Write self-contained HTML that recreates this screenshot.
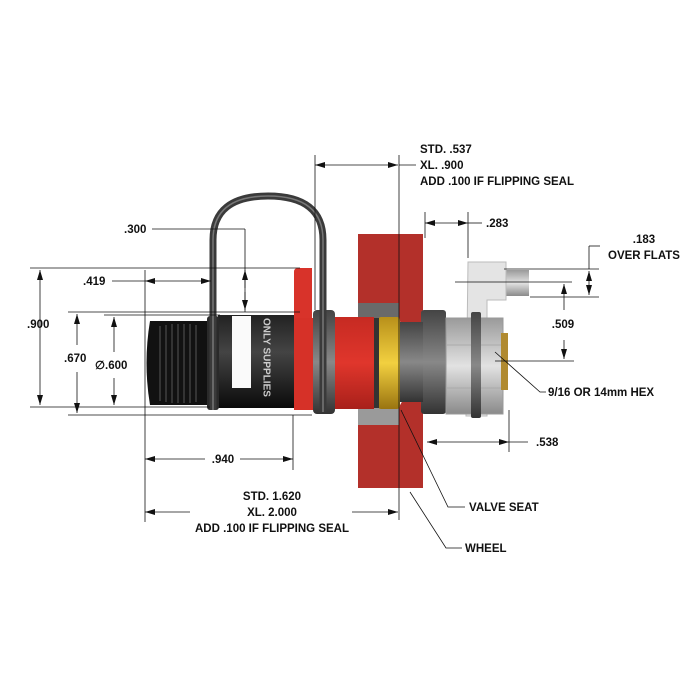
<!DOCTYPE html>
<html><head><style>
html,body{margin:0;padding:0;background:#fff;width:700px;height:700px;overflow:hidden}
text{font-family:"Liberation Sans",sans-serif;font-size:11.5px;font-weight:bold;fill:#111;dominant-baseline:middle}
</style></head><body>
<svg width="700" height="700" viewBox="0 0 700 700" xmlns="http://www.w3.org/2000/svg">
<defs>
<marker id="a" viewBox="0 0 10 6" refX="10" refY="3" markerWidth="10" markerHeight="6" orient="auto-start-reverse" markerUnits="userSpaceOnUse"><path d="M0,0 L10,3 L0,6z" fill="#111"/></marker>
<linearGradient id="blk" x1="0" y1="0" x2="0" y2="1"><stop offset="0" stop-color="#222"/><stop offset=".4" stop-color="#444"/><stop offset="1" stop-color="#0a0a0a"/></linearGradient>
<linearGradient id="red" x1="0" y1="0" x2="0" y2="1"><stop offset="0" stop-color="#c62a22"/><stop offset=".5" stop-color="#e0362c"/><stop offset="1" stop-color="#a8201a"/></linearGradient>
<linearGradient id="gry" x1="0" y1="0" x2="0" y2="1"><stop offset="0" stop-color="#9a9a9a"/><stop offset=".5" stop-color="#e2e2e2"/><stop offset="1" stop-color="#8a8a8a"/></linearGradient>
<linearGradient id="dg" x1="0" y1="0" x2="0" y2="1"><stop offset="0" stop-color="#444"/><stop offset=".5" stop-color="#888"/><stop offset="1" stop-color="#333"/></linearGradient>
<linearGradient id="yel" x1="0" y1="0" x2="0" y2="1"><stop offset="0" stop-color="#b8901a"/><stop offset=".5" stop-color="#f2d040"/><stop offset="1" stop-color="#9a7410"/></linearGradient>
</defs>

<!-- wheel -->
<path d="M358,234 H423 V327 H404 L399,320 V303 H358 Z" fill="#b3302a"/>
<path d="M358,425 H399 V407 L404,398 H423 V488 H358 Z" fill="#b3302a"/>
<rect x="358" y="303" width="41" height="16" fill="#6a6a6a"/>
<rect x="358" y="408" width="41" height="17" fill="#9a9a9a"/>

<!-- bracket & pin -->
<rect x="504" y="270" width="25" height="26" fill="url(#gry)"/>
<path d="M468,262 H506 V300 H487 V416 H466 Z" fill="#e4e4e4" stroke="#bbb"/>

<!-- hex nut etc -->
<rect x="421" y="310" width="25" height="104" rx="3" fill="url(#dg)"/>
<rect x="446" y="318" width="57" height="96" fill="url(#gry)" stroke="#999"/>
<line x1="446" y1="345" x2="503" y2="345" stroke="#aaa"/>
<line x1="446" y1="388" x2="503" y2="388" stroke="#aaa"/>
<rect x="471" y="312" width="10" height="106" rx="2" fill="url(#dg)"/>
<rect x="501" y="333" width="7" height="57" fill="#b08a30"/>
<rect x="399" y="322" width="24" height="80" fill="url(#dg)"/>
<rect x="378" y="317" width="22" height="92" rx="3" fill="url(#yel)"/>
<rect x="373" y="318" width="6" height="90" fill="#333"/>

<!-- red body -->
<rect x="330" y="317" width="44" height="92" fill="url(#red)"/>
<path d="M294,272 Q294,268 298,268 H312 V410 H294 Z" fill="#d8332a"/>
<rect x="294" y="318" width="30" height="92" fill="#d63128"/>
<rect x="313" y="310" width="22" height="104" rx="4" fill="url(#dg)"/>

<!-- black body -->
<rect x="218" y="315" width="76" height="93" fill="url(#blk)"/>
<rect x="232" y="316" width="19" height="72" fill="#fafafa"/>
<text transform="translate(266,318) rotate(90)" style="fill:#ccc;font-size:10px">ONLY SUPPLIES</text>
<rect x="207" y="316" width="12" height="94" rx="3" fill="#2a2a2a"/>

<!-- knurled cap -->
<path d="M150,321 H207 V405 H150 Q143,363 150,321 Z" fill="#111"/>
<g stroke="#555" stroke-width="1">
<line x1="160" y1="326" x2="160" y2="401"/><line x1="166" y1="325" x2="166" y2="402"/><line x1="172" y1="324" x2="172" y2="403"/><line x1="178" y1="324" x2="178" y2="403"/><line x1="184" y1="324" x2="184" y2="403"/><line x1="190" y1="324" x2="190" y2="403"/><line x1="196" y1="325" x2="196" y2="402"/>
</g>

<!-- handle -->
<path d="M213,410 V240 Q213,196 268,196 Q323,196 323,240 V412" fill="none" stroke="#3a3a3a" stroke-width="7"/>
<path d="M213,410 V240 Q213,196 268,196 Q323,196 323,240 V412" fill="none" stroke="#777" stroke-width="1.5"/>

<g stroke="#111" stroke-width="0.8" fill="none">
<!-- .900 -->
<line x1="30" y1="268" x2="300" y2="268"/>
<line x1="30" y1="407" x2="210" y2="407"/>
<line x1="40" y1="270" x2="40" y2="405" marker-start="url(#a)" marker-end="url(#a)"/>
<!-- .670 -->
<line x1="68" y1="312" x2="300" y2="312"/>
<line x1="68" y1="415" x2="312" y2="415"/>
<line x1="77" y1="314" x2="77" y2="345" marker-start="url(#a)"/>
<line x1="77" y1="372" x2="77" y2="413" marker-end="url(#a)"/>
<!-- .600 -->
<line x1="104" y1="315" x2="220" y2="315"/>
<line x1="114" y1="317" x2="114" y2="352" marker-start="url(#a)"/>
<line x1="114" y1="378" x2="114" y2="405" marker-end="url(#a)"/>
<!-- .419 -->
<line x1="112" y1="281" x2="145" y2="281"/>
<line x1="145" y1="281" x2="211" y2="281" marker-start="url(#a)" marker-end="url(#a)"/>
<line x1="145" y1="270" x2="145" y2="522"/>
<!-- .300 -->
<line x1="152" y1="229" x2="245" y2="229"/>
<line x1="245" y1="229" x2="245" y2="312"/>
<line x1="245" y1="288" x2="245" y2="270" marker-end="url(#a)"/>
<line x1="245" y1="292" x2="245" y2="310" marker-end="url(#a)"/>
<!-- .940 -->
<line x1="145" y1="459" x2="205" y2="459" marker-start="url(#a)"/>
<line x1="240" y1="459" x2="293" y2="459" marker-end="url(#a)"/>
<line x1="293" y1="415" x2="293" y2="470"/>
<!-- 1.620 -->
<line x1="145" y1="512" x2="190" y2="512" marker-start="url(#a)"/>
<line x1="352" y1="512" x2="398" y2="512" marker-end="url(#a)"/>
<line x1="399" y1="155" x2="399" y2="520"/>
<!-- .537 -->
<line x1="315" y1="155" x2="315" y2="310"/>
<line x1="315" y1="165" x2="398" y2="165" marker-start="url(#a)" marker-end="url(#a)"/>
<line x1="399" y1="165" x2="416" y2="165"/>
<!-- .283 -->
<line x1="425" y1="238" x2="425" y2="212"/>
<line x1="468" y1="258" x2="468" y2="212"/>
<line x1="425" y1="223" x2="468" y2="223" marker-start="url(#a)" marker-end="url(#a)"/>
<line x1="468" y1="223" x2="482" y2="223"/>
<!-- .183 -->
<line x1="504" y1="269" x2="599" y2="269"/>
<line x1="530" y1="297" x2="599" y2="297"/>
<line x1="589" y1="246" x2="589" y2="269"/>
<line x1="589" y1="246" x2="600" y2="246"/>
<line x1="589" y1="284" x2="589" y2="271" marker-end="url(#a)"/>
<line x1="589" y1="284" x2="589" y2="295" marker-end="url(#a)"/>
<!-- .509 -->
<line x1="455" y1="282" x2="572" y2="282"/>
<line x1="495" y1="361" x2="574" y2="361"/>
<line x1="564" y1="310" x2="564" y2="284" marker-end="url(#a)"/>
<line x1="564" y1="340" x2="564" y2="359" marker-end="url(#a)"/>
<!-- .538 -->
<line x1="509" y1="410" x2="509" y2="452"/>
<line x1="427" y1="442" x2="509" y2="442" marker-start="url(#a)" marker-end="url(#a)"/>
<line x1="509" y1="442" x2="528" y2="442"/>
<!-- leaders -->
<polyline points="495,352 540,392 546,392"/>
<polyline points="401,410 448,507 465,507"/>
<polyline points="410,492 446,548 462,548"/>
</g>

<text x="27" y="325">.900</text>
<text x="64" y="359">.670</text>
<text x="95" y="366">∅.600</text>
<text x="83" y="282">.419</text>
<text x="124" y="230">.300</text>
<text x="223" y="460" text-anchor="middle">.940</text>
<text x="272" y="497" text-anchor="middle">STD. 1.620</text>
<text x="272" y="513" text-anchor="middle">XL. 2.000</text>
<text x="272" y="529" text-anchor="middle">ADD .100 IF FLIPPING SEAL</text>
<text x="420" y="150">STD. .537</text>
<text x="420" y="166">XL. .900</text>
<text x="420" y="182">ADD .100 IF FLIPPING SEAL</text>
<text x="486" y="224">.283</text>
<text x="644" y="240" text-anchor="middle">.183</text>
<text x="644" y="256" text-anchor="middle">OVER FLATS</text>
<text x="548" y="393">9/16 OR 14mm HEX</text>
<text x="563" y="325" text-anchor="middle">.509</text>
<text x="536" y="443">.538</text>
<text x="469" y="508">VALVE SEAT</text>
<text x="465" y="549">WHEEL</text>
</svg>
</body></html>
